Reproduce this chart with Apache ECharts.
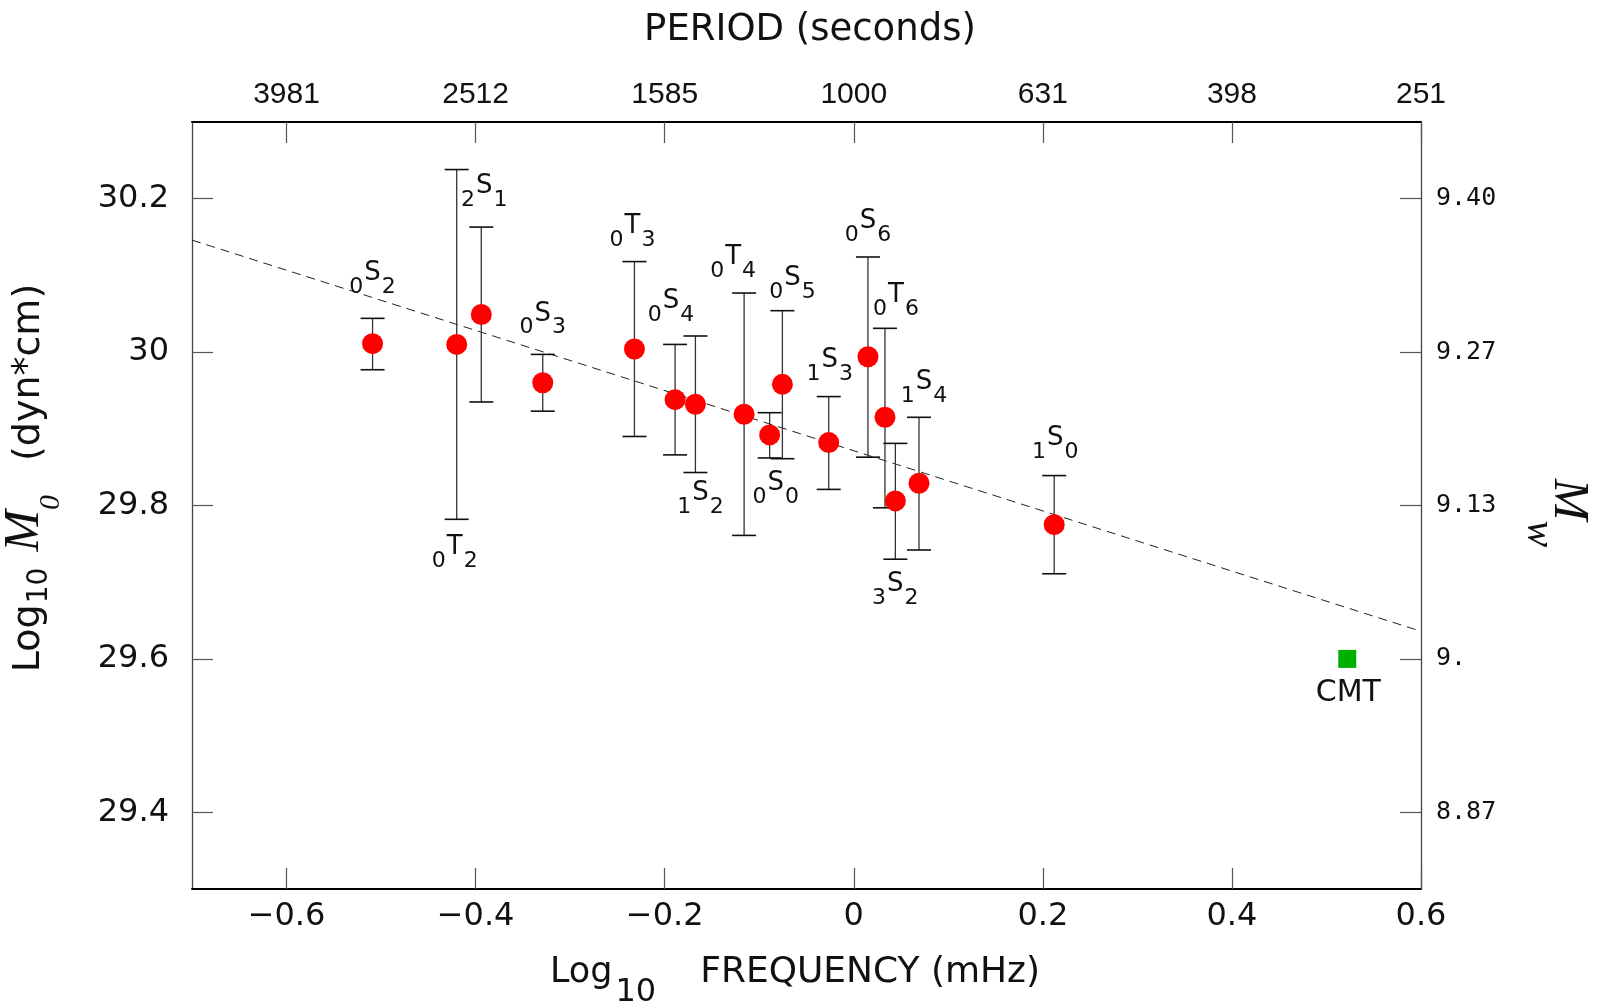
<!DOCTYPE html>
<html>
<head>
<meta charset="utf-8">
<script src="https://cdn.jsdelivr.net/npm/echarts@6/dist/echarts.min.js"></script>
<style>
html,body{margin:0;padding:0;background:#fff;}
#chart{width:1597px;height:1007px;}
</style>
</head>
<body>
<div id="chart"></div>
<script>
// ---- data ----
const modes = ['0S2','0T2','2S1','0S3','0T3','0S4','1S2','0T4','0S0','0S5','1S3','0S6','0T6','3S2','1S4','1S0'];
const logFreq = [-0.509,-0.420,-0.394,-0.329,-0.232,-0.189,-0.1675,-0.116,-0.089,-0.0755,-0.0265,0.015,0.033,0.044,0.069,0.212];
const logM0   = [30.011,30.010,30.049,29.960,30.004,29.938,29.932,29.919,29.892,29.958,29.882,29.994,29.915,29.806,29.829,29.775];
const errHigh = [30.044,30.238,30.163,29.997,30.118,30.010,30.021,30.077,29.921,30.054,29.942,30.124,30.031,29.881,29.915,29.839];
const errLow  = [29.977,29.782,29.935,29.923,29.890,29.866,29.843,29.761,29.862,29.861,29.821,29.863,29.797,29.730,29.742,29.711];
const cmtX = [0.522];
const cmtY = [29.600];
const fitX = [-0.7, 0.6];
const fitY = [30.146, 29.636];
const xTicks = [-0.6,-0.4,-0.2,0,0.2,0.4,0.6];
const xTickLabels = ['\u22120.6','\u22120.4','\u22120.2','0','0.2','0.4','0.6'];
const periodLabels = ['3981','2512','1585','1000','631','398','251'];
const yTicks = [29.4,29.6,29.8,30.0,30.2];
const yTickLabels = ['29.4','29.6','29.8','30','30.2'];
const mwLabels = ['8.87','9.','9.13','9.27','9.40'];

// ---- label placement (pixel offsets from each point) ----
const labelOffsets = {
  '0S2':[0,-70],'2S1':[3,-128],'0T2':[-2,203],'0S3':[0,-69],'0T3':[-2,-123],
  '0S4':[-4,-98],'1S2':[5,89],'0T4':[-11,-157],'0S0':[6,48],'0S5':[10,-106],
  '1S3':[1,-82],'0S6':[0,-135],'0T6':[11,-122],'1S4':[5,-101],'3S2':[0,83],'1S0':[1,-86]
};

function idxOf(arr, v){ for(let i=0;i<arr.length;i++){ if(Math.abs(arr[i]-v)<1e-6) return i; } return -1; }

const SANS = 'DejaVu Sans';
const txt = '#111';
const modeRich = {
  n:{fontSize:22,fontFamily:SANS,color:txt,padding:[28,0,0,0]},
  L:{fontSize:26,fontFamily:SANS,color:txt,padding:[0,1,0,1]}
};

const pointData = modes.map((m,i)=>({
  value:[logFreq[i], logM0[i]],
  label:{
    show:true, position:'inside', offset:labelOffsets[m],
    formatter:'{n|'+m[0]+'}{L|'+m[1]+'}{n|'+m.slice(2)+'}',
    rich:modeRich, color:txt
  }
}));

const chart = echarts.init(document.getElementById('chart'), null, {renderer:'canvas'});

const axisLineDark = {show:true, onZero:false, lineStyle:{color:'#000', width:2}};
const axisLineSide = {show:true, onZero:false, lineStyle:{color:'#444', width:1.3}};
const tickStyle = {color:'#555', width:1.2};

const option = {
  backgroundColor:'#fff',
  animation:false,
  grid:{left:192, right:176, top:122, bottom:118},
  xAxis:[
    {type:'value', position:'bottom', min:-0.7, max:0.6,
     axisLine:axisLineDark, splitLine:{show:false},
     axisTick:{show:true, inside:true, length:21, customValues:xTicks, lineStyle:tickStyle},
     axisLabel:{show:true, customValues:xTicks, margin:12, fontSize:32, fontFamily:SANS, color:txt,
       formatter:(v)=>xTickLabels[idxOf(xTicks,v)]}},
    {type:'value', position:'top', min:-0.7, max:0.6,
     axisLine:axisLineDark, splitLine:{show:false},
     axisTick:{show:true, inside:true, length:21, customValues:xTicks, lineStyle:tickStyle},
     axisLabel:{show:true, customValues:xTicks, margin:12, fontSize:30, fontFamily:'Liberation Sans', color:txt,
       formatter:(v)=>periodLabels[idxOf(xTicks,v)]}}
  ],
  yAxis:[
    {type:'value', position:'left', min:29.3, max:30.3,
     axisLine:axisLineSide, splitLine:{show:false},
     axisTick:{show:true, inside:true, length:21, customValues:yTicks, lineStyle:tickStyle},
     axisLabel:{show:true, customValues:yTicks, margin:23, fontSize:32, fontFamily:SANS, color:txt,
       formatter:(v)=>yTickLabels[idxOf(yTicks,v)]}},
    {type:'value', position:'right', min:29.3, max:30.3,
     axisLine:axisLineSide, splitLine:{show:false},
     axisTick:{show:true, inside:true, length:21, customValues:yTicks, lineStyle:tickStyle},
     axisLabel:{show:true, customValues:yTicks, margin:15, fontSize:25, fontFamily:'DejaVu Sans Mono', color:txt,
       formatter:(v)=>mwLabels[idxOf(yTicks,v)]}}
  ],
  series:[
    {type:'line', name:'fit', xAxisIndex:0, yAxisIndex:0, z:1,
     data:fitX.map((x,i)=>[x,fitY[i]]), symbol:'none', silent:true,
     lineStyle:{color:'#222', width:1, type:[9,6]}},
    {type:'custom', name:'err', xAxisIndex:0, yAxisIndex:0, z:2,
     data:logFreq.map((x,i)=>[x, errLow[i], errHigh[i]]),
     encode:{x:0, y:[1,2]},
     renderItem:function(params, api){
       const x = api.value(0), lo = api.value(1), hi = api.value(2);
       const a = api.coord([x, lo]), b = api.coord([x, hi]);
       const hw = 12;
       const st = {stroke:'#333', lineWidth:1.3};
       const cs = {stroke:'#111', lineWidth:1.6};
       return {type:'group', children:[
         {type:'line', shape:{x1:a[0], y1:a[1], x2:b[0], y2:b[1]}, style:st},
         {type:'line', shape:{x1:a[0]-hw, y1:a[1], x2:a[0]+hw, y2:a[1]}, style:cs},
         {type:'line', shape:{x1:b[0]-hw, y1:b[1], x2:b[0]+hw, y2:b[1]}, style:cs}
       ]};
     }},
    {type:'scatter', name:'modes', xAxisIndex:0, yAxisIndex:0, z:3,
     symbol:'circle', symbolSize:21, itemStyle:{color:'#ff0000', opacity:1},
     data:pointData},
    {type:'scatter', name:'CMT', xAxisIndex:0, yAxisIndex:0, z:3,
     symbol:'rect', symbolSize:18, itemStyle:{color:'#00b000', opacity:1},
     label:{show:true, position:'inside', offset:[1,34], formatter:'CMT',
       fontSize:30, fontFamily:SANS, color:txt},
     data:cmtX.map((x,i)=>[x,cmtY[i]])}
  ],
  graphic:[
    {type:'text', x:810, y:30, z:10,
     style:{text:'PERIOD (seconds)', fontSize:37, fontFamily:SANS, fill:txt, align:'center', verticalAlign:'middle'}},
    {type:'text', x:795, y:973, z:10,
     style:{text:'{a|Log}{s|10}{b|FREQUENCY (mHz)}', align:'center', verticalAlign:'middle', fill:txt,
       rich:{
         a:{fontSize:35, fontFamily:SANS, fill:txt},
         s:{fontSize:32, fontFamily:SANS, fill:txt, padding:[40,0,0,3]},
         b:{fontSize:36, fontFamily:SANS, fill:txt, padding:[0,0,0,44]}
       }}},
    {type:'text', x:29, y:478, rotation:Math.PI/2, z:10,
     style:{text:'{a|Log}{s|10}{m|M}{ms|0}{b|(dyn*cm)}', align:'center', verticalAlign:'middle', fill:txt,
       rich:{
         a:{fontSize:38, fontFamily:SANS, fill:txt},
         s:{fontSize:28, fontFamily:SANS, fill:txt, padding:[22,0,0,1]},
         m:{fontSize:50, fontFamily:'Liberation Serif', fontStyle:'italic', fill:txt, padding:[0,0,8,16]},
         ms:{fontSize:30, fontFamily:'Liberation Serif', fontStyle:'italic', fill:txt, padding:[44,0,0,0]},
         b:{fontSize:38, fontFamily:SANS, fill:txt, padding:[0,0,0,34]}
       }}},
    {type:'text', x:1568, y:513, rotation:-Math.PI/2, z:10,
     style:{text:'{m|M}{w|w}', align:'center', verticalAlign:'middle', fill:txt,
       rich:{
         m:{fontSize:50, fontFamily:'Liberation Serif', fontStyle:'italic', fill:txt},
         w:{fontSize:40, fontFamily:'Liberation Serif', fontStyle:'italic', fill:txt, padding:[58,0,0,0]}
       }}}
  ]
};
chart.setOption(option);
</script>
</body>
</html>
